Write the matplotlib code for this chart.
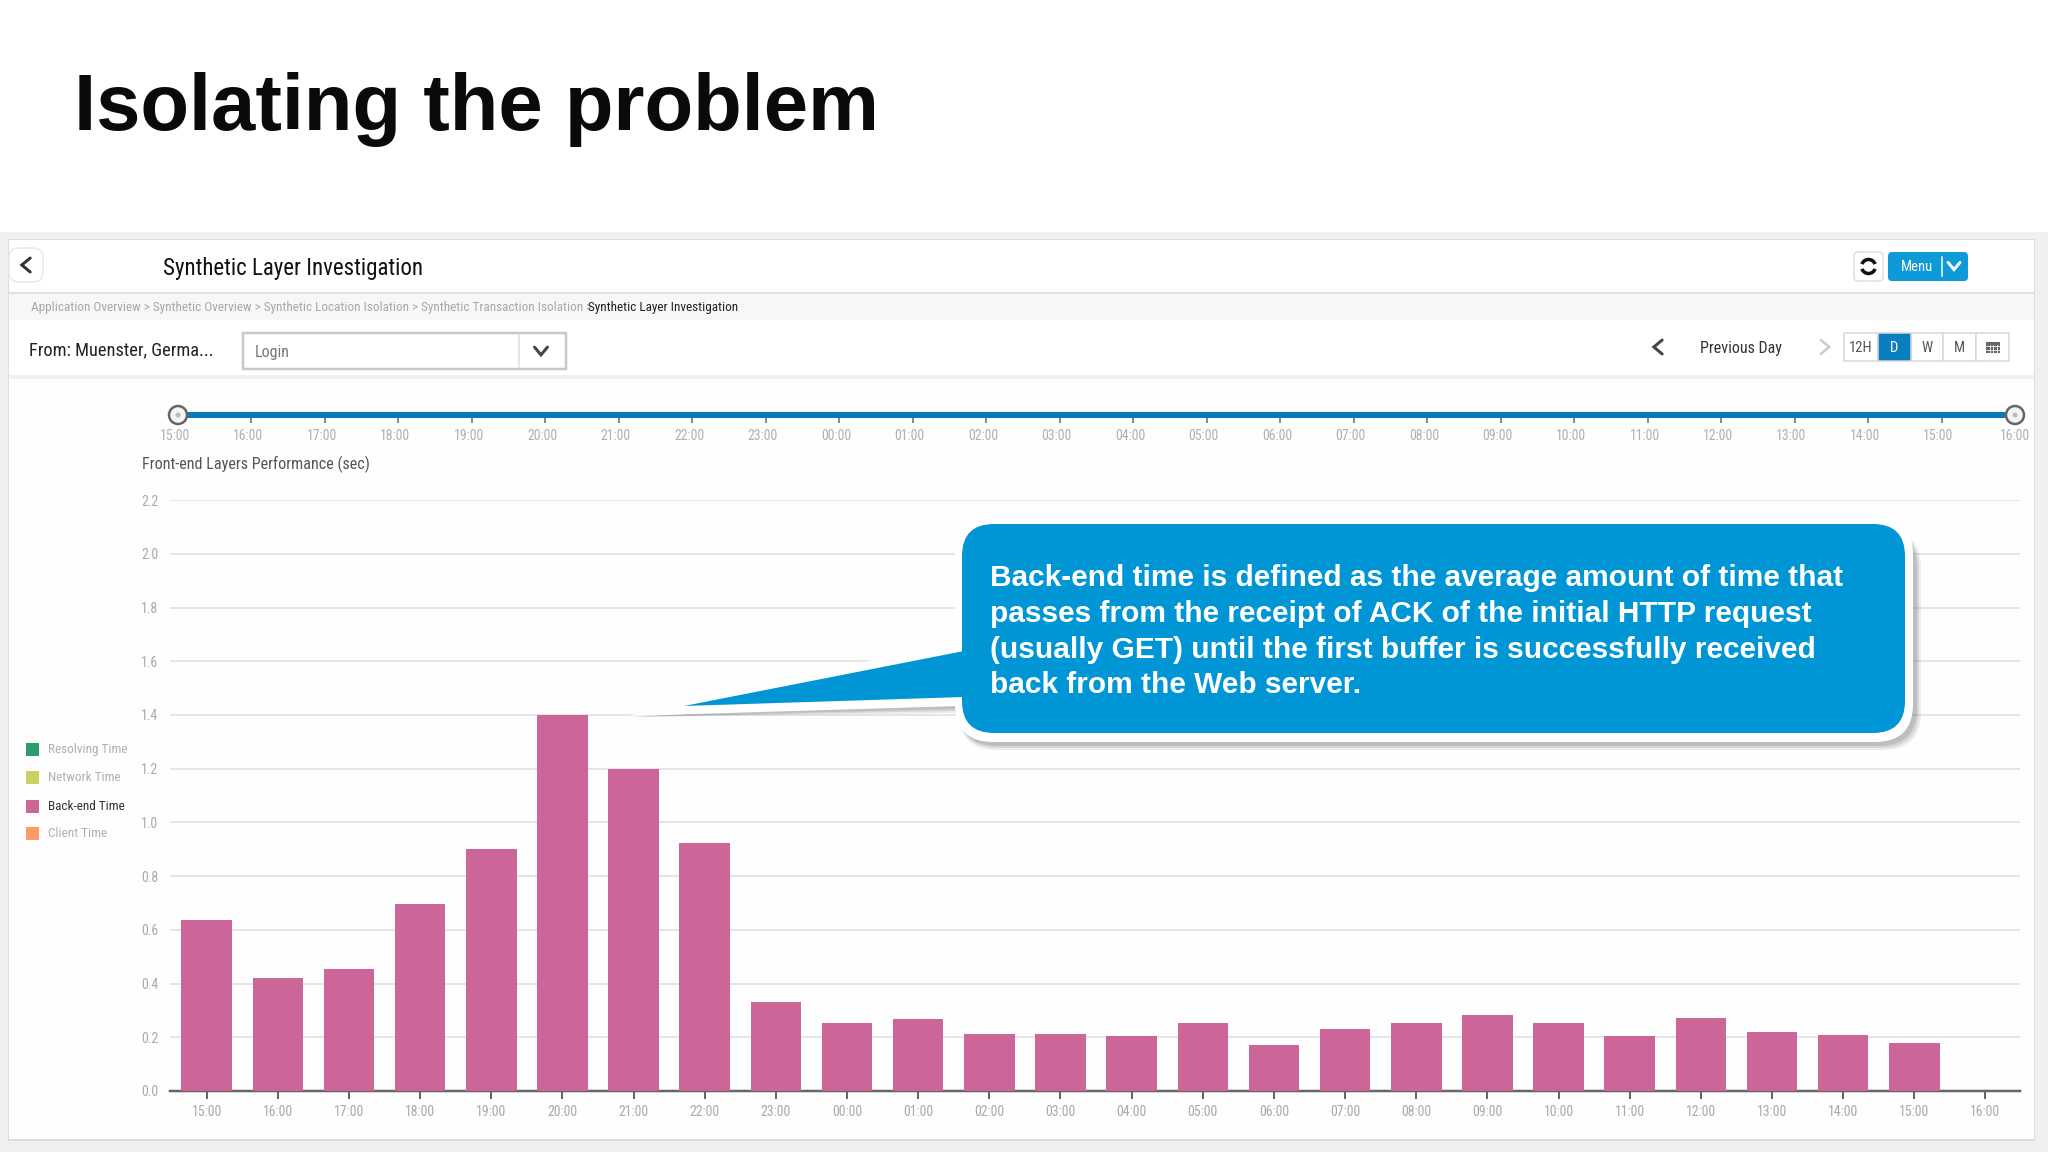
# recreate slide: Isolating the problem (synthetic layer investigation screenshot)

#%% 1) Import
import matplotlib
matplotlib.use('Agg')
import matplotlib.pyplot as plt
from matplotlib.patches import Rectangle, FancyBboxPatch, Polygon, Circle, Arc
from matplotlib.transforms import ScaledTranslation

#%% 2) Data
hours = ['15:00', '16:00', '17:00', '18:00', '19:00', '20:00', '21:00', '22:00', '23:00',
         '00:00', '01:00', '02:00', '03:00', '04:00', '05:00', '06:00', '07:00', '08:00',
         '09:00', '10:00', '11:00', '12:00', '13:00', '14:00', '15:00', '16:00']
backend_time = [0.637, 0.42, 0.453, 0.696, 0.90, 1.40, 1.20, 0.925, 0.33, 0.253, 0.268, 0.214,
                0.214, 0.204, 0.253, 0.17, 0.229, 0.253, 0.282, 0.253, 0.204, 0.272, 0.219,
                0.209, 0.18, 0.0]
y_ticks = [0.0, 0.2, 0.4, 0.6, 0.8, 1.0, 1.2, 1.4, 1.6, 1.8, 2.0, 2.2]
legend_names = ['Resolving Time', 'Network Time', 'Back-end Time', 'Client Time']
legend_colors = ['#2e9b6c', '#c9d162', '#cc6699', '#ff9a66']
legend_text_colors = ['#b0b0b0', '#b0b0b0', '#333333', '#b0b0b0']
callout_lines = ['Back-end time is defined as the average amount of time that',
                 'passes from the receipt of ACK of the initial HTTP request',
                 '(usually GET) until the first buffer is successfully received',
                 'back from the Web server.']

#%% 3) Setup
W, H = 2048, 1152
plt.rcParams['font.family'] = ['Roboto Condensed', 'Liberation Sans']
fig = plt.figure(figsize=(W / 100, H / 100), dpi=100, facecolor='white')
PX = 72 / 100  # one pixel in points


def px_axes(z):
    ax = fig.add_axes([0, 0, 1, 1], zorder=z)
    ax.set_xlim(0, W)
    ax.set_ylim(H, 0)
    ax.axis('off')
    ax.patch.set_alpha(0)
    return ax


def rect(ax, x0, y0, x1, y1, color, **kw):
    ax.add_patch(Rectangle((x0, y0), x1 - x0, y1 - y0, facecolor=color, edgecolor='none', **kw))


def round_box(ax, x0, y0, x1, y1, r, fc, ec='none', lw=0, **kw):
    ax.add_patch(FancyBboxPatch((x0 + r, y0 + r), x1 - x0 - 2 * r, y1 - y0 - 2 * r,
                                boxstyle=f'round,pad={r},rounding_size={r}',
                                facecolor=fc, edgecolor=ec, linewidth=lw, **kw))


def chevron(ax, x, y, size, direction, color, lw):
    if direction == 'down':
        xs, ys = [x - size, x, x + size], [y - size * 0.6, y + size * 0.6, y - size * 0.6]
    elif direction == 'left':
        xs, ys = [x + size * 0.6, x - size * 0.6, x + size * 0.6], [y - size, y, y + size]
    else:
        xs, ys = [x - size * 0.6, x + size * 0.6, x - size * 0.6], [y - size, y, y + size]
    ax.plot(xs, ys, color=color, lw=lw * PX, solid_capstyle='round', solid_joinstyle='miter')


#%% 4) Page background and dashboard chrome
bg = px_axes(0)
bg.text(74, 130, 'Isolating the problem', fontsize=57.3, fontweight='bold', color='#0a0a0a',
        family='Liberation Sans', ha='left', va='baseline')

rect(bg, 0, 232, W, H, '#f0f0f1')
rect(bg, 8, 239, 2035, 1141, '#dddddd')
rect(bg, 9, 240, 2034, 1139, '#fefefe')
rect(bg, 9, 240, 2034, 293, 'white')
bg.plot([9, 2034], [293, 293], color='#d8d8d8', lw=1.5 * PX)
rect(bg, 9, 294, 2034, 320, '#f7f7f8')
rect(bg, 9, 320, 2034, 375, 'white')
rect(bg, 9, 375, 2034, 379, '#f0f0f0')

# back button + page title
round_box(bg, 9, 248, 43, 282, 10, 'white', ec='#e8e8e8', lw=1)
chevron(bg, 26, 265, 7, 'left', '#333333', 3)
bg.text(163, 268, 'Synthetic Layer Investigation', fontsize=16.5, color='#111111', va='center')

# breadcrumbs
bg.text(31, 308, 'Application Overview > Synthetic Overview > Synthetic Location Isolation > '
        'Synthetic Transaction Isolation >', fontsize=9.5, color='#a8a8a8', va='center')
bg.text(588, 308, 'Synthetic Layer Investigation', fontsize=9.5, color='#222222', va='center')

# location + dropdown
bg.text(29, 350, 'From: Muenster, Germa...', fontsize=13.2, color='#222222', va='center')
bg.add_patch(Rectangle((243, 333), 323, 36, facecolor='white', edgecolor='#c8c8c8', linewidth=2.5 * PX))
bg.plot([519, 519], [335, 367], color='#dddddd', lw=1.5 * PX)
bg.text(255, 352, 'Login', fontsize=11.5, color='#777777', va='center')
chevron(bg, 541, 351, 6.5, 'down', '#444444', 3)

# refresh + menu
round_box(bg, 1854, 252, 1883, 281, 4, 'white', ec='#dddddd', lw=1)
bg.add_patch(Arc((1868.5, 266.5), 14, 14, theta1=20, theta2=160, color='#111111', lw=3.5 * PX))
bg.add_patch(Arc((1868.5, 266.5), 14, 14, theta1=200, theta2=340, color='#111111', lw=3.5 * PX))
round_box(bg, 1888, 252, 1968, 281, 4, '#0e9ad8')
bg.text(1917, 267, 'Menu', fontsize=10.5, color='white', ha='center', va='center')
bg.plot([1942, 1942], [257, 276], color='white', lw=1.5 * PX)
chevron(bg, 1954, 266, 6, 'down', 'white', 3)

# day navigation
chevron(bg, 1658, 347, 7, 'left', '#444444', 3)
bg.text(1741, 348, 'Previous Day', fontsize=11.5, color='#333333', ha='center', va='center')
chevron(bg, 1825, 347, 7, 'right', '#cccccc', 2.5)

seg_edges = [1844, 1877.5, 1911, 1943, 1976, 2009]
seg_labels = ['12H', 'D', 'W', 'M', '']
for i, lab in enumerate(seg_labels):
    active = lab == 'D'
    bg.add_patch(Rectangle((seg_edges[i], 333), seg_edges[i + 1] - seg_edges[i], 28,
                           facecolor='#0a7fc0' if active else 'white', edgecolor='#d8d8d8',
                           linewidth=1.5 * PX, zorder=3 if active else 2))
    bg.text((seg_edges[i] + seg_edges[i + 1]) / 2, 348, lab, fontsize=10.5,
            color='white' if active else '#555555', ha='center', va='center', zorder=4)
# calendar icon
rect(bg, 1986, 342, 2000, 353, '#666666', zorder=4)
for gx in [1989.5, 1993, 1996.5]:
    bg.plot([gx, gx], [345, 353], color='white', lw=0.8 * PX, zorder=5)
for gy in [346, 349.5]:
    bg.plot([1986, 2000], [gy, gy], color='white', lw=0.8 * PX, zorder=5)

# legend
legend_y = [749.5, 777.5, 806, 833.5]
for name, col, tcol, ly in zip(legend_names, legend_colors, legend_text_colors, legend_y):
    rect(bg, 25.5, ly - 6.5, 38.5, ly + 6.5, col)
    bg.text(48, ly, name, fontsize=9.5, color=tcol, va='center')

#%% 5) Time slider
SL_L, SL_R, SL_Y = 178, 2015, 415
sl = fig.add_axes([SL_L / W, 1 - (SL_Y + 3) / H, (SL_R - SL_L) / W, 6 / H], zorder=1)
sl.set_xlim(0, len(hours) - 1)
sl.set_ylim(0, 1)
sl.set_facecolor('#0a79b8')
for s in sl.spines.values():
    s.set_visible(False)
sl.set_yticks([])
sl.set_xticks(range(len(hours)))
sl.set_xticklabels(hours, fontsize=10, color='#b0b0b0')
sl.tick_params(axis='x', length=5 * PX, width=1.5 * PX, color='#666666', pad=4)
# labels sit a little left of their ticks in the reference
for lbl in sl.get_xticklabels()[:-1]:
    lbl.set_transform(lbl.get_transform() + ScaledTranslation(-3 / 100, 0, fig.dpi_scale_trans))

#%% 6) Bar chart
Y0, UNIT = 1091, 268.6
CH_L, CH_R = 170, 2020
ch = fig.add_axes([CH_L / W, 1 - Y0 / H, (CH_R - CH_L) / W, 2.2 * UNIT / H], zorder=1)
ch.patch.set_alpha(0)
ch.set_xlim(-0.515, 25.485)
ch.set_ylim(0, 2.2)
ch.bar(range(len(hours)), backend_time, width=0.71, color='#cc6699', zorder=3)
ch.set_yticks(y_ticks)
ch.set_yticklabels([f'{v:.1f}' for v in y_ticks], fontsize=10, color='#aaaaaa')
ch.set_xticks(range(len(hours)))
ch.set_xticklabels(hours, fontsize=10, color='#aaaaaa')
ch.grid(axis='y', color='#dedede', lw=1.5 * PX, zorder=0)
ch.set_axisbelow(True)
ch.tick_params(axis='y', length=0, pad=12 * PX)
ch.tick_params(axis='x', length=8 * PX, width=2 * PX, color='#666666', pad=6 * PX)
for name in ['top', 'left', 'right']:
    ch.spines[name].set_visible(False)
ch.spines['bottom'].set_color('#666666')
ch.spines['bottom'].set_linewidth(2.5 * PX)
bg.text(142, 464, 'Front-end Layers Performance (sec)', fontsize=11.6, color='#555555', va='center')

#%% 7) Slider handles + callout on top
top = px_axes(3)
for hx in [SL_L, SL_R]:
    top.add_patch(Circle((hx, SL_Y), 9, facecolor='#f4f4f4', edgecolor='#666666', linewidth=2.5 * PX))
    top.add_patch(Circle((hx, SL_Y), 2.5, facecolor='#bbbbbb', edgecolor='none'))

# soft shadow (mostly below the bubble), then white border, then the blue bubble
for grow, alpha in [(6, 0.10), (4, 0.14), (2, 0.18)]:
    round_box(top, 959, 530, 1915 + grow, 744 + grow, 38, '#555555', alpha=alpha)
    top.add_patch(Polygon([(630, 717), (956, 707 + grow), (956, 700)],
                          facecolor='#555555', edgecolor='none', alpha=alpha))
round_box(top, 955, 516, 1913, 742, 38, 'white')
top.add_patch(Polygon([(628, 716), (960, 706), (960, 640)], facecolor='white', edgecolor='none'))
round_box(top, 962, 524, 1905, 733, 32, '#0096d6')
top.add_patch(Polygon([(684, 706), (964, 651), (964, 697)], facecolor='#0096d6', edgecolor='none'))
line_base = [586, 622, 658, 693]
for txt, ly in zip(callout_lines, line_base):
    top.text(990, ly, txt, fontsize=21.5, fontweight='bold', color='white',
             family='Liberation Sans', ha='left', va='baseline')

fig.savefig('out.png', dpi=100)
